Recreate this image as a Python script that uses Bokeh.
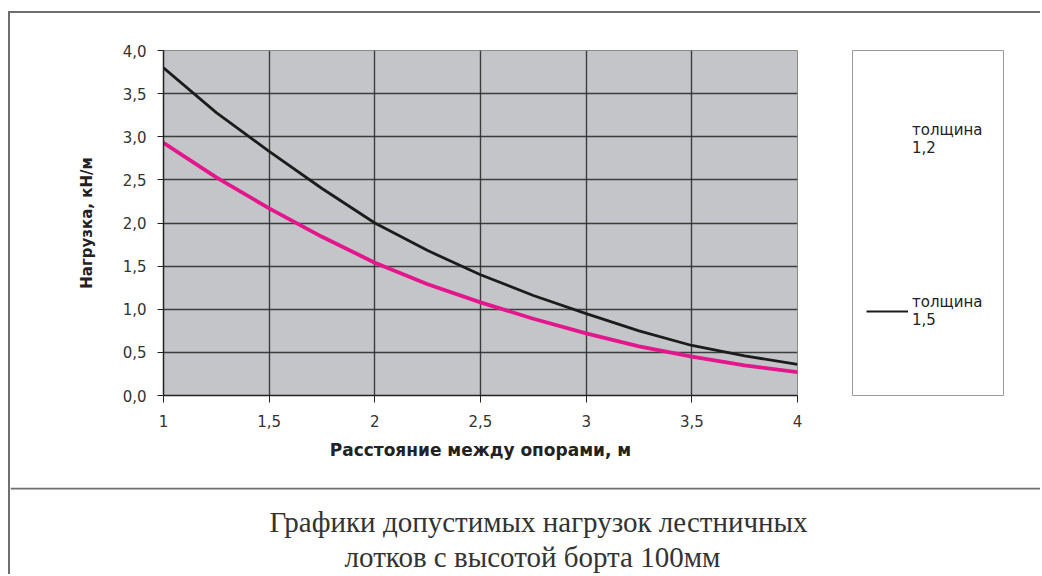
from bokeh.plotting import figure
from bokeh.layouts import column, row
from bokeh.models import (Range1d, FixedTicker, CustomJSTickFormatter, BoxAnnotation, Label,
                          Legend, LegendItem, Spacer)
from bokeh.embed import file_html
from bokeh.resources import INLINE

# ---- data ----
span_m = [1.0, 1.25, 1.5, 1.75, 2.0, 2.25, 2.5, 2.75, 3.0, 3.25, 3.5, 3.75, 4.0]
load_t15 = [3.80, 3.28, 2.83, 2.40, 2.00, 1.68, 1.40, 1.16, 0.95, 0.75, 0.58, 0.46, 0.36]
load_t12 = [2.93, 2.53, 2.17, 1.84, 1.54, 1.29, 1.08, 0.89, 0.72, 0.57, 0.45, 0.35, 0.27]
x_ticks = [1, 1.5, 2, 2.5, 3, 3.5, 4]
y_ticks = [0, 0.5, 1.0, 1.5, 2.0, 2.5, 3.0, 3.5, 4.0]
series_names = ["толщина\n1,2", "толщина\n1,5"]
x_title = "Расстояние между опорами, м"
y_title = "Нагрузка, кН/м"
caption = ["Графики допустимых нагрузок лестничных", "лотков с высотой борта 100мм"]

C12 = "#e3168b"
C15 = "#1c1c1c"
FRAME_LINE = "#6e6e6e"

# ---------------- chart ----------------
CW, CH = 820, 474
p = figure(width=CW, height=CH, output_backend="svg", toolbar_location=None, title=None,
           x_range=Range1d(1, 4), y_range=Range1d(0, 4),
           min_border_left=153, min_border_right=33, min_border_top=37, min_border_bottom=92)
p.background_fill_color = "#c3c5c8"
p.border_fill_color = "white"
p.outline_line_color = "#8a8a8a"
p.outline_line_width = 1

for ax in (p.xaxis[0], p.yaxis[0]):
    ax.axis_line_color = "#222"
    ax.axis_line_width = 1.5
    ax.major_tick_line_color = "#222"
    ax.major_tick_in = 0
    ax.minor_tick_line_color = None
    ax.major_label_text_font = "DejaVu Sans"
    ax.major_label_text_font_size = "15px"
    ax.major_label_text_color = "#333"
    ax.axis_label_text_font = "DejaVu Sans"
    ax.axis_label_text_font_style = "bold"
    ax.axis_label_text_color = "#222"

p.xaxis.axis_label_text_font_size = "17px"
p.yaxis.axis_label_text_font_size = "15px"
p.xaxis.ticker = FixedTicker(ticks=x_ticks)
p.yaxis.ticker = FixedTicker(ticks=y_ticks)
p.xaxis.formatter = CustomJSTickFormatter(code="return String(tick).replace('.', ',');")
p.yaxis.formatter = CustomJSTickFormatter(code="return tick.toFixed(1).replace('.', ',');")
p.xaxis.major_tick_out = 7
p.yaxis.major_tick_out = 6
p.xaxis.major_label_standoff = 12
p.yaxis.major_label_standoff = 11
p.xaxis.axis_label = x_title
p.yaxis.axis_label = y_title
p.xaxis.axis_label_standoff = 10
p.yaxis.axis_label_standoff = 24

p.xgrid.ticker = FixedTicker(ticks=x_ticks)
p.ygrid.ticker = FixedTicker(ticks=y_ticks)
for g in (p.xgrid[0], p.ygrid[0]):
    g.grid_line_color = "#2e2e2e"
    g.grid_line_width = 1.4
    g.grid_line_alpha = 0.9

p.line(span_m, load_t12, line_color=C12, line_width=3.8, line_join="round")
p.line(span_m, load_t15, line_color=C15, line_width=2.8, line_join="round")

# ---------------- legend panel ----------------
LW = 210
lf = figure(width=LW, height=CH, output_backend="svg", toolbar_location=None, title=None,
            x_range=Range1d(-10, -9), y_range=Range1d(-10, -9),
            x_axis_location=None, y_axis_location=None,
            min_border_left=22, min_border_right=37, min_border_top=37, min_border_bottom=91)
lf.grid.visible = False
lf.outline_line_color = "#9a9a9a"
lf.outline_line_width = 1
lf.background_fill_color = "white"
lf.border_fill_color = "white"
# same series, outside this panel's view: only their legend keys show here
r12 = lf.line(span_m, load_t12, line_color=C12, line_width=3.5, line_alpha=0)
r15 = lf.line(span_m, load_t15, line_color=C15, line_width=2)
leg = Legend(items=[LegendItem(label=series_names[0], renderers=[r12]),
                    LegendItem(label=series_names[1], renderers=[r15])],
             location=(14, 66), orientation="vertical",
             padding=0, margin=0, spacing=136,
             glyph_width=42, glyph_height=16, label_standoff=4,
             label_text_font="DejaVu Sans", label_text_font_size="15px",
             label_text_color="#222",
             border_line_alpha=0, background_fill_alpha=0)
lf.add_layout(leg)

# ---------------- caption panel ----------------
KW, KH = 1030, 87
cf = figure(width=KW, height=KH, output_backend="svg", toolbar_location=None, title=None,
            x_range=Range1d(0, 1), y_range=Range1d(0, 1),
            x_axis_location=None, y_axis_location=None, min_border=0)
cf.grid.visible = False
cf.outline_line_color = None
cf.background_fill_color = "white"
cf.border_fill_color = "white"
cf.add_layout(BoxAnnotation(left=0, right=KW, top=KH, bottom=KH - 2,
                            left_units="screen", right_units="screen",
                            top_units="screen", bottom_units="screen",
                            fill_color=FRAME_LINE, fill_alpha=1, line_color=None))
for txt, cx, cy in zip(caption, [528, 522], [34, 69]):
    cf.add_layout(Label(x=cx, y=KH - cy, x_units="screen", y_units="screen",
                        text=txt, text_font="Liberation Serif", text_font_size="29px",
                        text_align="center", text_baseline="middle", text_color="#333"))

inner = column(row(p, lf, spacing=0), cf, spacing=0,
               styles={"border-top": "2px solid " + FRAME_LINE,
                       "border-left": "2px solid " + FRAME_LINE})
root = row(Spacer(width=8), column(Spacer(height=11), inner, spacing=0), spacing=0)

open("out.html", "w").write(file_html(root, INLINE))
